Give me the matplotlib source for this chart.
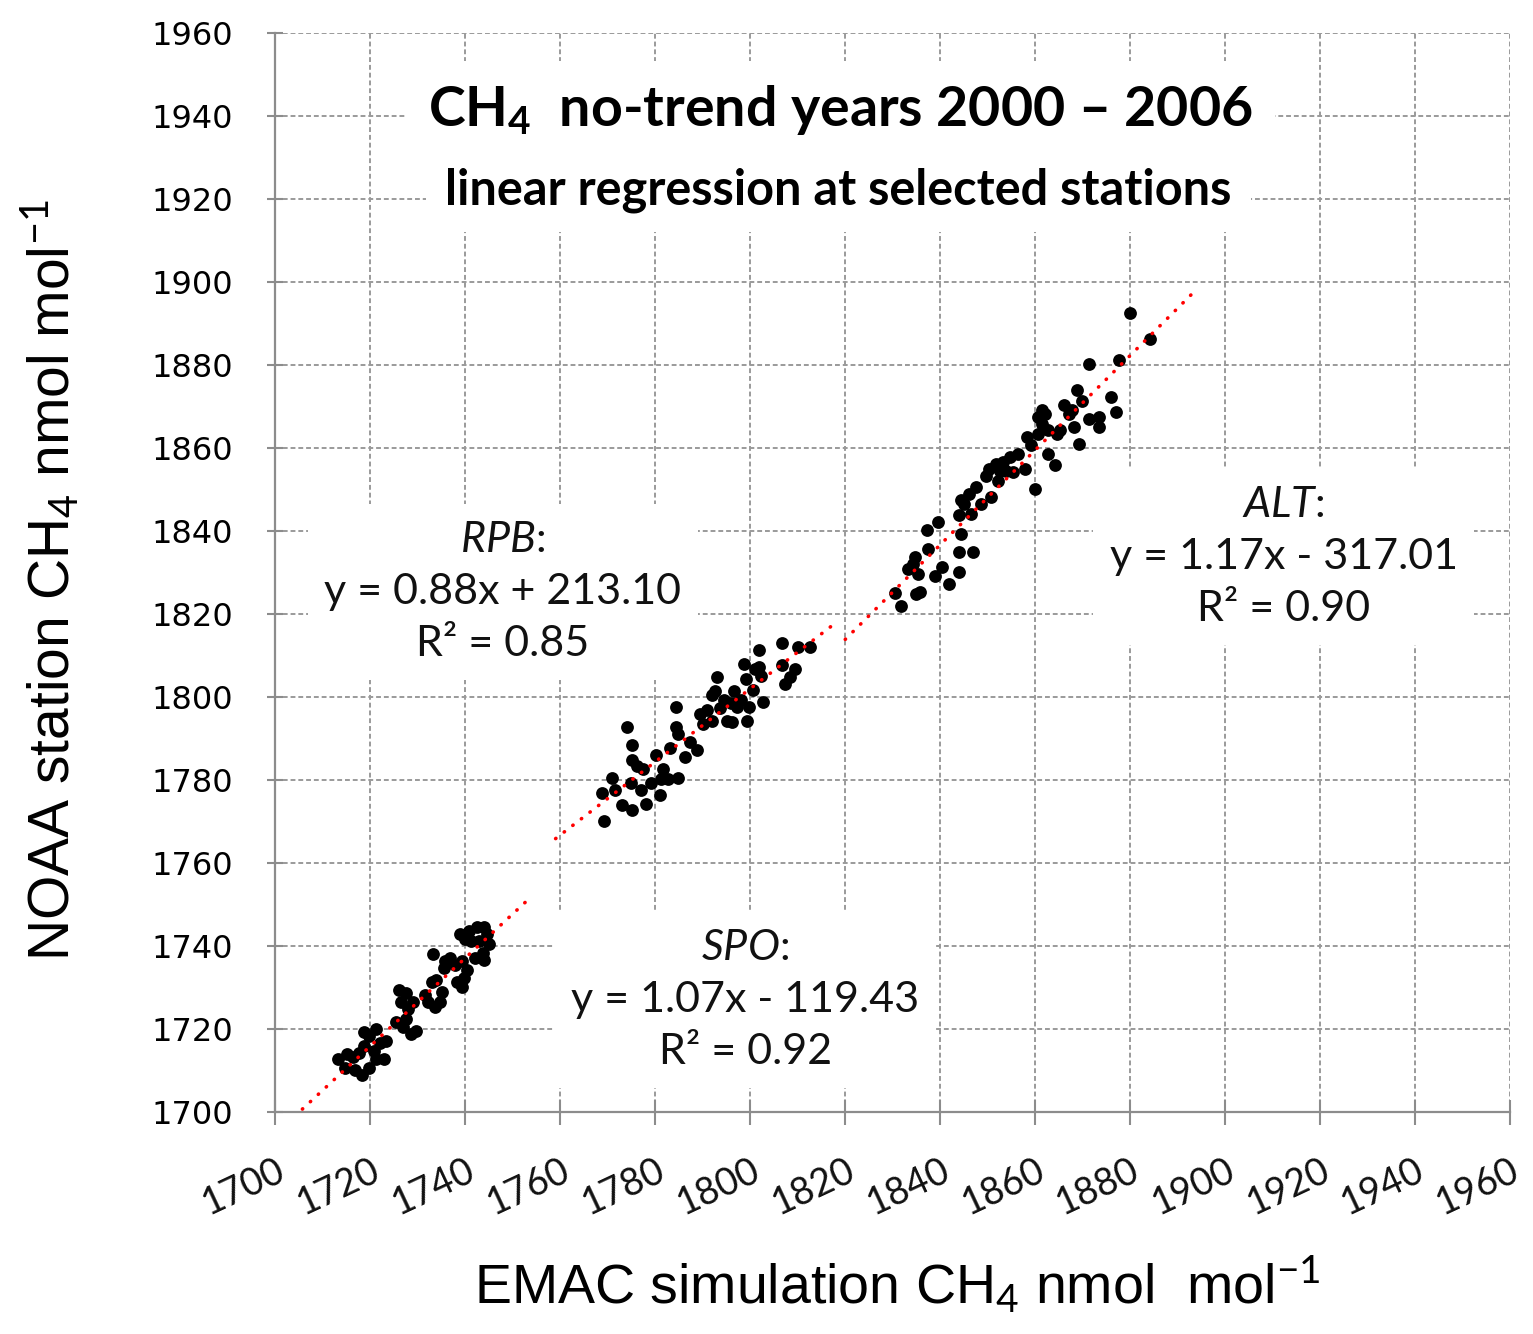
import numpy as np
import matplotlib
matplotlib.use("Agg")
import matplotlib.pyplot as plt

plt.rcParams['mathtext.fontset'] = 'custom'
plt.rcParams['mathtext.rm'] = 'Lato'
plt.rcParams['mathtext.it'] = 'Lato:italic'
plt.rcParams['mathtext.bf'] = 'Lato:bold'

# SPO station (EMAC x, NOAA y)
spo_x = [1713.2, 1715.0, 1716.4, 1714.6, 1716.8, 1718.2, 1719.6, 1721.1, 1722.9, 1718.6,
         1719.6, 1721.1, 1718.6, 1722.1, 1723.2, 1720.7, 1717.5,
         1726.1, 1727.5, 1726.4, 1727.9, 1725.4, 1726.8, 1728.6, 1729.6, 1727.5, 1728.9,
         1732.9, 1733.9, 1732.1, 1733.6, 1734.6, 1735.0, 1731.4,
         1733.2, 1735.7, 1736.8, 1737.9, 1739.3, 1740.3, 1739.6, 1739.3, 1738.2, 1735.4,
         1738.9, 1740.7, 1742.5, 1743.9, 1744.6, 1745.0, 1743.6, 1743.9, 1742.1, 1741.1,
         1742.8, 1740.0]
spo_y = [1712.7, 1713.9, 1713.3, 1710.6, 1710.2, 1709.0, 1710.6, 1712.7, 1712.7, 1715.9,
         1718.4, 1720.0, 1719.2, 1716.7, 1717.2, 1714.7, 1714.3,
         1729.4, 1728.6, 1726.5, 1724.9, 1721.6, 1720.4, 1718.8, 1719.6, 1722.5, 1726.5,
         1731.4, 1731.8, 1726.5, 1725.3, 1726.5, 1729.0, 1728.2,
         1738.0, 1736.3, 1737.1, 1735.5, 1736.3, 1734.3, 1732.2, 1730.2, 1731.4, 1734.7,
         1742.9, 1743.7, 1744.5, 1744.5, 1742.9, 1740.4, 1738.4, 1736.7, 1737.1, 1741.2,
         1741.2, 1741.6]

# RPB station
rpb_x = [1769.1, 1768.7, 1770.9, 1773.0, 1775.1, 1774.1, 1775.1, 1775.1, 1774.8, 1776.9,
         1778.0, 1779.1, 1780.9, 1777.3, 1780.1, 1781.6, 1782.6, 1784.8, 1783.0, 1784.4,
         1784.4, 1784.8, 1786.2, 1788.7, 1790.1, 1789.4, 1791.9, 1792.6, 1793.0, 1791.9,
         1793.7, 1795.1, 1796.2, 1796.6, 1797.3, 1798.0, 1798.7, 1799.1, 1799.4, 1799.8,
         1800.5, 1801.9, 1801.9, 1802.3, 1802.6, 1806.6, 1806.6, 1807.3, 1808.4, 1809.4,
         1810.1, 1812.6, 1771.6, 1776.2, 1781.2, 1787.3, 1790.9, 1794.4, 1800.9, 1795.9]
rpb_y = [1770.2, 1776.8, 1780.6, 1773.9, 1772.7, 1792.7, 1788.5, 1784.8, 1779.3, 1777.7,
         1774.3, 1779.3, 1776.4, 1782.7, 1786.0, 1782.7, 1780.2, 1780.6, 1787.7, 1792.7,
         1797.7, 1791.0, 1785.6, 1787.3, 1793.5, 1796.0, 1794.3, 1801.4, 1804.8, 1800.6,
         1797.3, 1794.3, 1793.9, 1801.4, 1797.7, 1799.3, 1808.1, 1804.3, 1794.3, 1797.7,
         1801.8, 1811.4, 1807.2, 1805.2, 1798.9, 1813.1, 1807.7, 1803.1, 1804.8, 1806.8,
         1812.2, 1812.2, 1777.7, 1783.5, 1780.2, 1789.3, 1796.8, 1799.3, 1806.8, 1798.5]

# ALT station
alt_x = [1831.8, 1830.4, 1835.0, 1835.7, 1833.2, 1834.7, 1835.4, 1837.5, 1837.2, 1839.6,
         1838.9, 1840.4, 1841.8, 1843.9, 1843.9, 1846.8, 1844.3, 1843.9, 1844.3, 1846.4,
         1846.1, 1847.5, 1848.5, 1849.6, 1850.7, 1851.7, 1853.2, 1853.9, 1852.1, 1854.6,
         1855.3, 1856.4, 1857.8, 1858.2, 1859.2, 1859.9, 1860.6, 1860.6, 1862.1, 1861.4,
         1862.8, 1864.2, 1862.8, 1865.3, 1866.0, 1867.1, 1867.8, 1868.1, 1869.2, 1868.8,
         1869.9, 1871.3, 1873.5, 1873.5, 1871.3, 1876.0, 1877.0, 1877.7, 1879.9, 1884.1,
         1861.4, 1864.6, 1850.3, 1852.5, 1845.0, 1834.3]
alt_y = [1822.0, 1825.2, 1824.9, 1825.3, 1830.9, 1833.7, 1829.7, 1835.7, 1840.2, 1842.2,
         1829.3, 1831.3, 1827.3, 1830.1, 1834.9, 1834.9, 1839.3, 1843.8, 1847.4, 1844.2,
         1849.0, 1850.6, 1846.6, 1853.4, 1848.2, 1856.3, 1856.7, 1854.6, 1852.2, 1857.9,
         1854.2, 1858.7, 1855.0, 1862.7, 1860.7, 1850.2, 1867.5, 1863.5, 1868.3, 1865.9,
         1858.7, 1855.9, 1864.3, 1864.3, 1870.3, 1868.3, 1869.1, 1865.1, 1861.1, 1874.0,
         1871.5, 1867.1, 1867.5, 1865.1, 1880.4, 1872.4, 1868.7, 1881.2, 1892.5, 1886.4,
         1869.1, 1863.5, 1855.0, 1854.6, 1846.6, 1832.1]

# x-extent of each trend line
spo_line = [1704, 1754]
rpb_line = [1759, 1817]
alt_line = [1820, 1893]

ticks = list(range(1700, 1961, 20))

spo_text = "$\\it{SPO}$:\ny = 1.07x - 119.43\nR² = 0.92"
rpb_text = "$\\it{RPB}$:\ny = 0.88x + 213.10\nR² = 0.85"
alt_text = "$\\it{ALT}$:\ny = 1.17x - 317.01\nR² = 0.90"

fig = plt.figure(figsize=(15.33, 13.34), dpi=100)
ax = fig.add_axes([0.1797, 0.1664, 0.8053, 0.8086])

for xs, ys, rng in [(spo_x, spo_y, spo_line), (rpb_x, rpb_y, rpb_line), (alt_x, alt_y, alt_line)]:
    ax.scatter(xs, ys, s=85, color='black', zorder=3, linewidths=0)
    k, b = np.polyfit(xs, ys, 1)
    lx = np.array(rng, dtype=float)
    ax.plot(lx, k * lx + b, color='red', lw=2.6, linestyle=(0, (0.1, 2.9)),
            dash_capstyle='round', zorder=4)

ax.set_xlim(1700, 1960)
ax.set_ylim(1700, 1960)
ax.set_xticks(ticks)
ax.set_yticks(ticks)
ax.set_xticklabels([str(t) for t in ticks], rotation=25, ha='right', va='top',
                   rotation_mode='anchor', fontfamily='Lato', fontsize=27, color='#111111')
ax.set_yticklabels([str(t) for t in ticks], fontfamily='DejaVu Sans', fontsize=23)
ax.tick_params(axis='x', direction='inout', length=18, width=1.5, color='#8c8c8c', pad=20)
ax.tick_params(axis='y', direction='inout', length=11, width=1.5, color='#8c8c8c', pad=25)

ax.grid(True, color='#9a9a9a', linestyle=(0, (2.5, 1.5)), lw=1.4, zorder=0)
ax.set_axisbelow(True)
for s in ['top', 'right']:
    ax.spines[s].set_visible(False)
for s in ['left', 'bottom']:
    ax.spines[s].set_color('#8c8c8c')
    ax.spines[s].set_linewidth(1.6)

ax.set_xlabel("EMAC simulation CH$_4$ nmol  mol$^{-1}$", fontfamily='Liberation Sans', fontsize=40)
ax.xaxis.set_label_coords(0.504, -0.16)
ax.xaxis.label.set_verticalalignment('center')
ax.set_ylabel("NOAA station CH$_4$ nmol mol$^{-1}$", fontfamily='Liberation Sans', fontsize=41)
ax.yaxis.set_label_coords(-0.183, 0.493)
ax.yaxis.label.set_verticalalignment('center')

ax.text(1818.9, 1941.5, "CH$_\\mathbf{4}$  no-trend years 2000 – 2006", fontfamily='Lato',
        fontweight='bold', fontsize=40, ha='center', va='center',
        bbox=dict(facecolor='white', edgecolor='none', pad=16), zorder=2)
ax.text(1818.5, 1922.2, "linear regression at selected stations", fontfamily='Lato',
        fontweight='bold', fontsize=35, ha='center', va='center',
        bbox=dict(facecolor='white', edgecolor='none', pad=14), zorder=2)

for txt, x, y in [(rpb_text, 1747.9, 1825.3), (alt_text, 1912.3, 1833.8), (spo_text, 1798.9, 1727.0)]:
    ax.text(x, y, txt, fontfamily='Lato', fontsize=31, ha='center', va='center',
            linespacing=1.45, color='#111111',
            bbox=dict(facecolor='white', edgecolor='none', pad=12), zorder=2)

fig.savefig("out.png", dpi=100)
